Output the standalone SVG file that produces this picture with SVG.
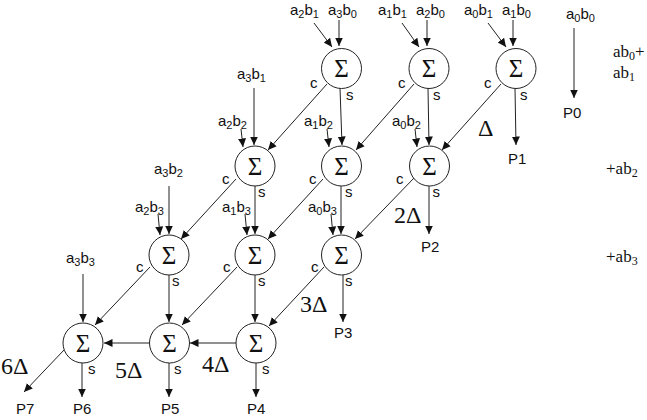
<svg xmlns="http://www.w3.org/2000/svg" width="647" height="420" viewBox="0 0 647 420">
<style>
text{font-family:"Liberation Sans",Arial,sans-serif;font-size:15px;fill:#111}
.sub{font-size:11px}
.ser{font-family:"Liberation Serif","Times New Roman",serif;font-size:17px}
.ser .sub{font-size:12px}
.big{font-family:"Liberation Serif","Times New Roman",serif;font-size:24px}
.sig{font-family:"Liberation Serif","Times New Roman",serif;font-size:25px;text-anchor:middle}
circle{fill:#fff;stroke:#222;stroke-width:1}
#connectors line{stroke:#222;stroke-width:1;marker-end:url(#a)}
</style>
<defs><marker id="a" markerUnits="userSpaceOnUse" markerWidth="9" markerHeight="10" refX="8.5" refY="4.5" orient="auto"><path d="M0 0.5L8.5 4.5L0 8.500Z" fill="#111"/></marker></defs>
<rect width="647" height="420" fill="#fff"/>
<g id="connectors">
<line x1="314" y1="23" x2="332" y2="47"/><line x1="339" y1="20" x2="339" y2="46"/>
<line x1="402" y1="23" x2="419" y2="47"/><line x1="427" y1="20" x2="427" y2="46"/>
<line x1="488" y1="23" x2="506" y2="47"/><line x1="513" y1="20" x2="513" y2="46"/>
<line x1="574" y1="28" x2="574" y2="98"/>
<line x1="254" y1="88" x2="254" y2="145"/><line x1="241" y1="129" x2="243" y2="147"/>
<line x1="327" y1="84" x2="268" y2="150"/><line x1="340" y1="88" x2="342" y2="145"/><line x1="327" y1="129" x2="329" y2="147"/>
<line x1="414" y1="84" x2="356" y2="150"/><line x1="428" y1="88" x2="429" y2="145"/><line x1="415" y1="129" x2="417" y2="147"/>
<line x1="501" y1="84" x2="442" y2="150"/><line x1="515" y1="88" x2="516" y2="145"/>
<line x1="169" y1="186" x2="169" y2="234"/><line x1="158" y1="214" x2="160" y2="235"/>
<line x1="236" y1="179" x2="181" y2="239"/><line x1="255" y1="186" x2="255" y2="234"/><line x1="245" y1="214" x2="247" y2="235"/>
<line x1="323" y1="179" x2="268" y2="239"/><line x1="341" y1="186" x2="341" y2="234"/><line x1="331" y1="214" x2="333" y2="235"/>
<line x1="414" y1="178" x2="355" y2="239"/><line x1="429" y1="186" x2="429" y2="234"/>
<line x1="83" y1="274" x2="83" y2="322"/>
<line x1="150" y1="267" x2="95" y2="325"/><line x1="169" y1="275" x2="169" y2="322"/>
<line x1="237" y1="267" x2="182" y2="325"/><line x1="255" y1="275" x2="255" y2="322"/>
<line x1="324" y1="267" x2="269" y2="326"/><line x1="343" y1="275" x2="343" y2="322"/>
<line x1="236" y1="343" x2="190" y2="343"/><line x1="150" y1="343" x2="104" y2="343"/>
<line x1="64" y1="350" x2="24" y2="392"/><line x1="82" y1="363" x2="82" y2="397"/><line x1="169" y1="363" x2="169" y2="397"/><line x1="256" y1="363" x2="256" y2="397"/>
</g>
<g id="n11"><circle cx="341.500" cy="68.500" r="20"/><text class="sig" x="341.500" y="77">Σ</text><text x="310" y="88">c</text><text x="346" y="100">s</text></g>
<g id="n12"><circle cx="429" cy="68.500" r="20"/><text class="sig" x="429" y="77">Σ</text><text x="398" y="88">c</text><text x="433" y="100">s</text></g>
<g id="n13"><circle cx="516" cy="68.500" r="20"/><text class="sig" x="516" y="77">Σ</text><text x="484" y="88">c</text><text x="520" y="100">s</text></g>
<g id="n21"><circle cx="255" cy="166" r="20"/><text class="sig" x="255" y="175">Σ</text><text x="222" y="184">c</text><text x="258" y="197">s</text></g>
<g id="n22"><circle cx="341.500" cy="166" r="20"/><text class="sig" x="341.500" y="175">Σ</text><text x="309" y="184">c</text><text x="345" y="197">s</text></g>
<g id="n23"><circle cx="429.500" cy="166" r="20"/><text class="sig" x="429.500" y="175">Σ</text><text x="396" y="184">c</text><text x="432.500" y="197">s</text></g>
<g id="n31"><circle cx="169" cy="255" r="20"/><text class="sig" x="169" y="264">Σ</text><text x="136" y="272">c</text><text x="172" y="286">s</text></g>
<g id="n32"><circle cx="255" cy="255" r="20"/><text class="sig" x="255" y="264">Σ</text><text x="223" y="272">c</text><text x="258" y="286">s</text></g>
<g id="n33"><circle cx="341.500" cy="255" r="20"/><text class="sig" x="341.500" y="264">Σ</text><text x="311" y="272">c</text><text x="345" y="286">s</text></g>
<g id="n41"><circle cx="83" cy="343" r="20"/><text class="sig" x="83" y="352">Σ</text><text x="88" y="374">s</text></g>
<g id="n42"><circle cx="169.500" cy="343" r="20"/><text class="sig" x="169.500" y="352">Σ</text><text x="174" y="374">s</text></g>
<g id="n43"><circle cx="256" cy="343" r="20"/><text class="sig" x="256" y="352">Σ</text><text x="262" y="374">s</text></g>
<g id="labels">
<text x="290" y="15">a<tspan class="sub" dy="3">2</tspan><tspan dy="-3">b</tspan><tspan class="sub" dy="3">1</tspan></text>
<text x="328" y="15">a<tspan class="sub" dy="3">3</tspan><tspan dy="-3">b</tspan><tspan class="sub" dy="3">0</tspan></text>
<text x="378" y="15">a<tspan class="sub" dy="3">1</tspan><tspan dy="-3">b</tspan><tspan class="sub" dy="3">1</tspan></text>
<text x="416" y="15">a<tspan class="sub" dy="3">2</tspan><tspan dy="-3">b</tspan><tspan class="sub" dy="3">0</tspan></text>
<text x="464" y="15">a<tspan class="sub" dy="3">0</tspan><tspan dy="-3">b</tspan><tspan class="sub" dy="3">1</tspan></text>
<text x="502" y="15">a<tspan class="sub" dy="3">1</tspan><tspan dy="-3">b</tspan><tspan class="sub" dy="3">0</tspan></text>
<text x="566" y="19">a<tspan class="sub" dy="3">0</tspan><tspan dy="-3">b</tspan><tspan class="sub" dy="3">0</tspan></text>
<text x="237" y="79">a<tspan class="sub" dy="3">3</tspan><tspan dy="-3">b</tspan><tspan class="sub" dy="3">1</tspan></text>
<text x="218" y="126">a<tspan class="sub" dy="3">2</tspan><tspan dy="-3">b</tspan><tspan class="sub" dy="3">2</tspan></text>
<text x="304" y="126">a<tspan class="sub" dy="3">1</tspan><tspan dy="-3">b</tspan><tspan class="sub" dy="3">2</tspan></text>
<text x="392" y="126">a<tspan class="sub" dy="3">0</tspan><tspan dy="-3">b</tspan><tspan class="sub" dy="3">2</tspan></text>
<text x="154" y="174">a<tspan class="sub" dy="3">3</tspan><tspan dy="-3">b</tspan><tspan class="sub" dy="3">2</tspan></text>
<text x="135" y="212">a<tspan class="sub" dy="3">2</tspan><tspan dy="-3">b</tspan><tspan class="sub" dy="3">3</tspan></text>
<text x="222" y="212">a<tspan class="sub" dy="3">1</tspan><tspan dy="-3">b</tspan><tspan class="sub" dy="3">3</tspan></text>
<text x="308" y="212">a<tspan class="sub" dy="3">0</tspan><tspan dy="-3">b</tspan><tspan class="sub" dy="3">3</tspan></text>
<text x="66" y="263">a<tspan class="sub" dy="3">3</tspan><tspan dy="-3">b</tspan><tspan class="sub" dy="3">3</tspan></text>
<text class="ser" x="613" y="56.500">ab<tspan class="sub" dy="3">0</tspan><tspan dy="-3">+</tspan></text>
<text class="ser" x="613" y="78">ab<tspan class="sub" dy="3">1</tspan></text>
<text class="ser" x="606" y="174">+ab<tspan class="sub" dy="3">2</tspan></text>
<text class="ser" x="606" y="262">+ab<tspan class="sub" dy="3">3</tspan></text>
<text x="563" y="118">P0</text><text x="508" y="164">P1</text><text x="421" y="251.500">P2</text><text x="334" y="338">P3</text>
<text x="247" y="414">P4</text><text x="161" y="414">P5</text><text x="73" y="414">P6</text><text x="16" y="414">P7</text>
<text class="big" x="478" y="136">Δ</text><text class="big" x="394" y="222.500">2Δ</text><text class="big" x="300" y="312">3Δ</text>
<text class="big" x="202" y="372">4Δ</text><text class="big" x="115" y="377.500">5Δ</text><text class="big" x="1" y="374">6Δ</text>
</g>
</svg>
